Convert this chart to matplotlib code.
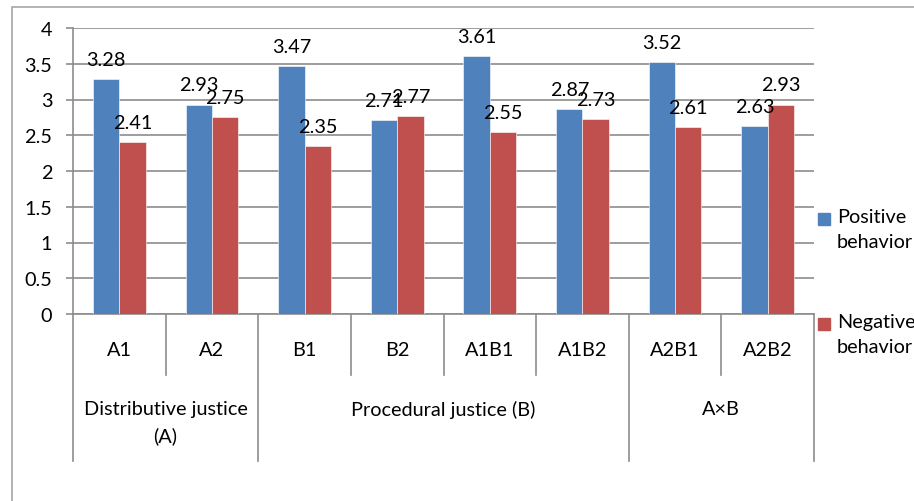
import numpy as np
import matplotlib.pyplot as plt
from matplotlib.patches import Rectangle
from matplotlib.lines import Line2D

plt.rcParams["font.family"] = ["Lato", "DejaVu Sans"]

categories = ["A1", "A2", "B1", "B2", "A1B1", "A1B2", "A2B1", "A2B2"]
groups = ["Distributive justice\n(A)", "Procedural justice (B)", "A×B"]
group_sizes = [2, 4, 2]
positive = [3.28, 2.93, 3.47, 2.71, 3.61, 2.87, 3.52, 2.63]
negative = [2.41, 2.75, 2.35, 2.77, 2.55, 2.73, 2.61, 2.93]
series_names = ["Positive\nbehavior", "Negative\nbehavior"]
colors = ["#4F81BD", "#C0504D"]
grid_col = "#8c8c8c"
FS = 14.3

W, H = 914, 502
fig = plt.figure(figsize=(W / 100, H / 100), dpi=100)
ax = fig.add_axes([73 / W, 1 - 315 / H, (814 - 73) / W, (315 - 29) / H])

# outer chart border (clipped by the image edge on right and bottom)
fig.add_artist(Rectangle((12 / W, -0.2), 2, 1 - 8 / H + 0.2,
                         transform=fig.transFigure, fill=False,
                         edgecolor="#a6a6a6", lw=1.2))

x = np.arange(len(categories))
bw = 0.285
for vals, off, c in [(positive, -bw / 2, colors[0]), (negative, bw / 2, colors[1])]:
    bars = ax.bar(x + off, vals, bw, color=c, edgecolor="white", linewidth=0.4, zorder=3)
    ax.bar_label(bars, labels=[f"{v:.2f}" for v in vals], padding=8,
                 fontsize=FS, color="black", zorder=4)

ax.set_xlim(-0.5, len(categories) - 0.5)
ax.set_ylim(0, 4)
ax.set_yticks(np.arange(0, 4.01, 0.5))
ax.set_yticklabels(["0", "0.5", "1", "1.5", "2", "2.5", "3", "3.5", "4"])
ax.yaxis.grid(True, color=grid_col, lw=1.2, zorder=0)
ax.tick_params(axis="y", length=5, width=1.2, color=grid_col, pad=10, labelsize=FS)
ax.set_xticks([])
for s in ["top", "right"]:
    ax.spines[s].set_visible(False)
ax.spines["left"].set_color(grid_col)
ax.spines["bottom"].set_color(grid_col)
ax.spines["left"].set_linewidth(1.2)
ax.spines["bottom"].set_linewidth(1.2)

# multi-level category axis
tr = ax.get_xaxis_transform()
px = 1 / (315 - 29)
y_cat_line = -(376 - 315) * px
y_grp_line = -(462 - 315) * px
for i, c in enumerate(categories):
    ax.text(i, -(350 - 315) * px, c, transform=tr, ha="center", va="center", fontsize=FS)
bounds = np.concatenate([[0], np.cumsum(group_sizes)])
for b in range(1, len(categories)):
    if b not in bounds:
        ax.add_line(Line2D([b - 0.5, b - 0.5], [0, y_cat_line], transform=tr,
                           color=grid_col, lw=1.2, clip_on=False))
for b in bounds:
    ax.add_line(Line2D([b - 0.5, b - 0.5], [0, y_grp_line], transform=tr,
                       color=grid_col, lw=1.2, clip_on=False))
for g, lo, hi in zip(groups, bounds[:-1], bounds[1:]):
    ax.text((lo + hi - 1) / 2, -(401 - 315) * px, g, transform=tr, ha="center",
            va="top", fontsize=FS, linespacing=1.6)

# legend
for name, c, ytop in zip(series_names, colors, [220, 325]):
    fig.add_artist(Rectangle((818 / W, 1 - (ytop + 6) / H), 12 / W, 12 / H,
                             transform=fig.transFigure, color=c))
    fig.text(837 / W, 1 - (ytop - 11) / H, name, ha="left", va="top",
             fontsize=FS, linespacing=1.55)

fig.savefig("out.png", dpi=100)
